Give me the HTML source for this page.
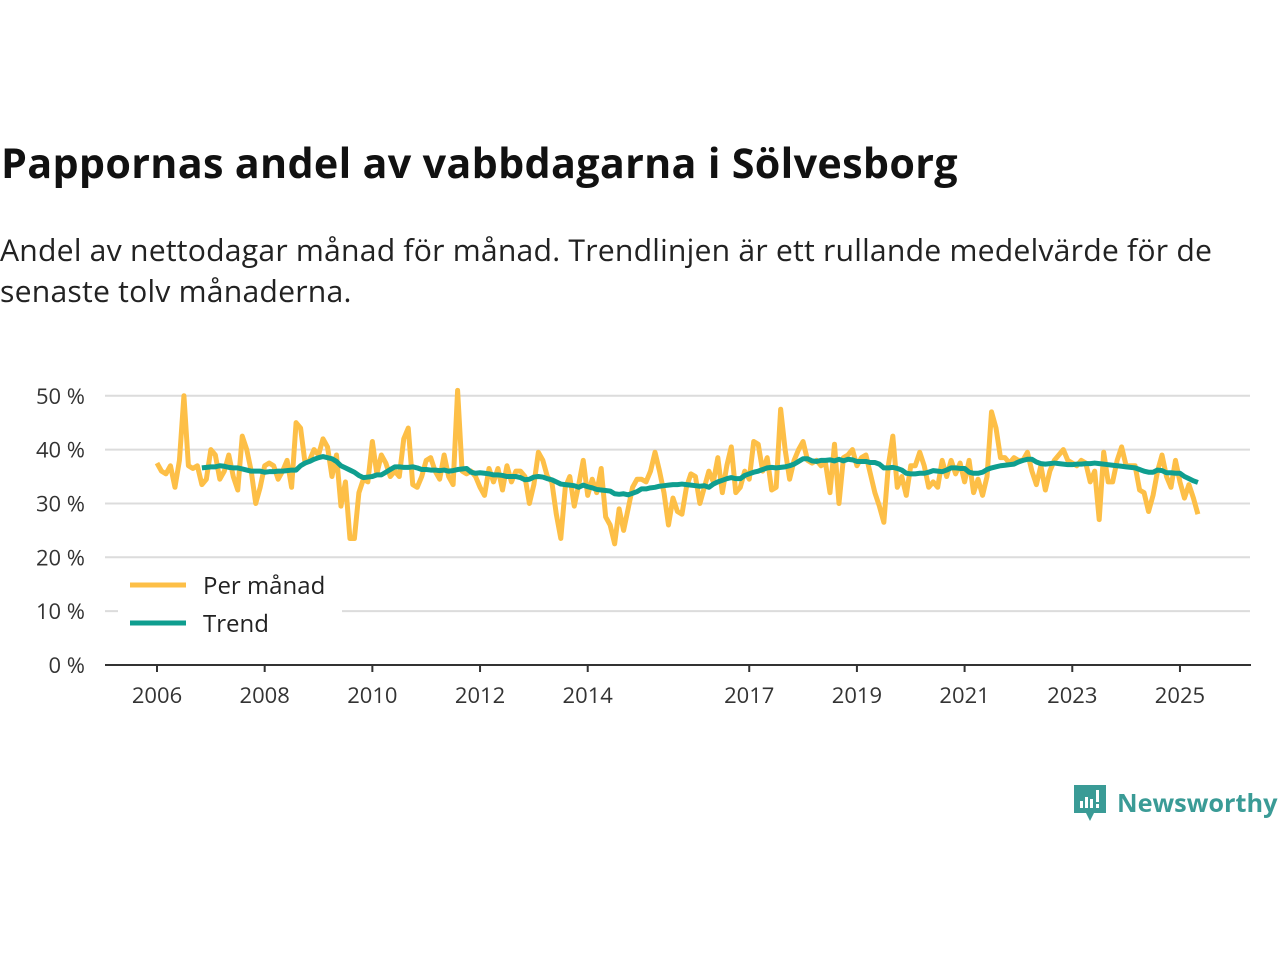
<!DOCTYPE html>
<html><head><meta charset="utf-8"><style>
body{margin:0;background:#fff;width:1280px;height:960px;overflow:hidden;font-family:"Open Sans","Liberation Sans",sans-serif;}
#title{position:absolute;left:1px;top:135px;font-size:41.3px;font-weight:bold;color:#111;margin:0;letter-spacing:0.3px}
#sub{position:absolute;left:0px;top:229px;font-size:30.2px;color:#222;line-height:41px;width:1240px;letter-spacing:0.2px}
#logo{position:absolute;left:1072px;top:783px;display:flex;align-items:center;gap:9px;color:#3a9b96;font-size:25.3px;font-weight:bold}
</style></head><body>
<h1 id="title">Pappornas andel av vabbdagarna i Sölvesborg</h1>
<div id="sub">Andel av nettodagar månad för månad. Trendlinjen är ett rullande medelvärde för de senaste tolv månaderna.</div>
<svg id="chart" width="1280" height="960" style="position:absolute;left:0;top:0"></svg>
<div id="logo">
<svg width="36" height="40" viewBox="0 0 36 40"><path d="M2 2h32v28H22l-4 8-4-8H2z" fill="#3a9b96"/><rect x="8" y="18" width="3" height="7" fill="#fff"/><rect x="13" y="14" width="3" height="11" fill="#fff"/><rect x="18" y="16" width="3" height="9" fill="#fff"/><rect x="24" y="7" width="3" height="12" fill="#fff"/><rect x="24" y="21" width="3" height="4" fill="#fff"/></svg>
<span>Newsworthy</span></div>
<script>
const monthly=[37.5,36,35.5,37,33,38,50,37,36.5,37,33.5,
34.5,40,39,34.5,36,39,35,32.5,42.5,40,36,30,
33,37,37.5,37,34.5,36,38,33,45,44,37.5,
38,40,39,42,40.5,35,39,29.5,34,23.5,23.5,32,
34.5,34,41.5,35.5,39,37.5,35,36,35,42,44,33.5,
33,35,38,38.5,36,34.5,39,35,33.5,51,36,35.5,
36,35,33,31.5,36.5,34,36.5,32.5,37,34,36,
36,35,30,33.5,39.5,38,35,34,28,23.5,33,35,
29.5,33.5,38,31.5,34.5,32,36.5,27.5,26,22.5,29,25,
29,33,34.5,34.5,34,36,39.5,36,32,26,31,28.5,
28,33,35.5,35,30,33,36,34,38.5,32,37,40.5,32,
33,36,34.5,41.5,41,36,38.5,32.5,33,47.5,40,34.5,
38,40,41.5,38,37.5,38,37,37.5,32,41,30,38.5,39,
40,37,38.5,39,35.5,32,29.5,26.5,37,42.5,33,35,
31.5,37,37,39.5,37,33,34,33,38,35,38,35.5,37.5,34,
38,32,34.5,31.5,35,47,44,38.5,38.5,37.5,38.5,38,
38,39.5,36,33.5,37,32.5,36,38,39,40,38,37.5,
37,38,37.5,34,36,27,39.5,34,34,38,40.5,37,
37,37,32.5,32,28.5,31.5,36,39,35,33,38,
34,31,33.5,31,28];
const trendStart=10;
const trend=[36.6,36.7,
36.8,36.8,37,36.9,36.7,36.6,36.6,36.4,36.2,36.0,36.0,36.0,
35.8,35.9,35.9,36.0,36.0,36.1,36.2,36.2,37.0,37.5,37.8,38.2,
38.5,38.7,38.5,38.3,37.8,37.0,36.6,36.2,35.8,35.2,34.8,34.9,
35.0,35.3,35.3,35.8,36.3,36.8,36.8,36.7,36.7,36.8,36.6,36.3,
36.3,36.2,36.2,36.1,36.2,36.0,36.1,36.3,36.4,36.5,35.8,35.6,
35.7,35.6,35.5,35.3,35.3,35.2,35.0,35.0,35.0,34.8,34.4,34.5,
34.9,35.0,34.9,34.6,34.4,34.0,33.6,33.5,33.4,33.3,33.0,33.4,
33.1,32.9,32.6,32.5,32.4,32.3,31.8,31.7,31.8,31.6,31.9,32.2,
32.7,32.7,32.9,33.0,33.2,33.3,33.4,33.5,33.5,33.6,33.5,33.4,
33.3,33.2,33.3,33.0,33.6,34.0,34.3,34.6,34.8,34.6,34.6,35.2,
35.5,35.8,36.0,36.3,36.6,36.7,36.6,36.7,36.8,37.0,37.3,37.8,
38.3,38.3,37.9,37.8,38.0,38.0,38.1,37.9,38.2,37.9,38.2,38.1,
37.8,37.8,37.8,37.6,37.6,37.3,36.6,36.6,36.7,36.5,36.2,35.6,
35.5,35.5,35.6,35.6,35.8,36.1,36.0,35.9,36.2,36.6,36.6,36.5,
36.5,35.8,35.6,35.6,35.8,36.3,36.6,36.8,37.0,37.1,37.2,37.3,
37.7,38.0,38.2,38.2,37.7,37.4,37.3,37.4,37.5,37.4,37.3,37.2,
37.2,37.3,37.3,37.4,37.4,37.5,37.4,37.3,37.2,37.1,37.0,36.9,
36.8,36.7,36.6,36.3,36.0,35.8,35.8,36.2,36.1,35.7,35.7,35.6,
35.6,35.0,34.6,34.2,33.9];
const yTicks=[0,10,20,30,40,50];
const xTicks=[2006,2008,2010,2012,2014,2017,2019,2021,2023,2025];
const startYear=2006;

const NS="http://www.w3.org/2000/svg";
const svg=document.getElementById('chart');
const x=t=>157+(t-2006)*53.84;
const xm=i=>x(startYear+i/12);
const y=v=>665-v*5.385;
function mk(tag,attrs){const e=document.createElementNS(NS,tag);for(const k in attrs)e.setAttribute(k,attrs[k]);svg.appendChild(e);return e;}
yTicks.forEach(v=>{
  if(v>0){const g=mk('line',{x1:105,x2:1250,y1:y(v),y2:y(v),stroke:'#dcdcdc','stroke-width':2});
  
  }
  const t=mk('text',{x:85,y:y(v)+8,'text-anchor':'end','font-size':22,fill:'#333','font-family':'Open Sans, Liberation Sans, sans-serif'});
  t.textContent=v+' %';
  
  
});
const ax=mk('line',{x1:105,x2:1251,y1:665,y2:665,stroke:'#333','stroke-width':2});


xTicks.forEach(yr=>{
  const tk=mk('line',{x1:x(yr),x2:x(yr),y1:665,y2:672,stroke:'#333','stroke-width':2});
  
  
  const t=mk('text',{x:x(yr),y:703,'text-anchor':'middle','font-size':22,fill:'#333','font-family':'Open Sans, Liberation Sans, sans-serif'});
  t.textContent=yr;
  
  
});
const p1=mk('polyline',{points:monthly.map((v,i)=>xm(i)+','+y(v)).join(' '),fill:'none',stroke:'#fdbf47','stroke-width':5,'stroke-linejoin':'round'});


const p2=mk('polyline',{points:trend.map((v,i)=>xm(i+trendStart)+','+y(v)).join(' '),fill:'none',stroke:'#0f9e8f','stroke-width':5,'stroke-linejoin':'round'});


const lb=mk('rect',{x:118,y:565,width:224,height:78,fill:'#fff'});


[['Per månad','#fdbf47',585],['Trend','#0f9e8f',623]].forEach(([n,c,yy])=>{
  const l=mk('line',{x1:130,x2:186,y1:yy,y2:yy,stroke:c,'stroke-width':5});
  
  
  const t=mk('text',{x:203,y:yy+9,'font-size':24,fill:'#222','font-family':'Open Sans, Liberation Sans, sans-serif'});
  t.textContent=n;
  
  
});
</script>
</body></html>
